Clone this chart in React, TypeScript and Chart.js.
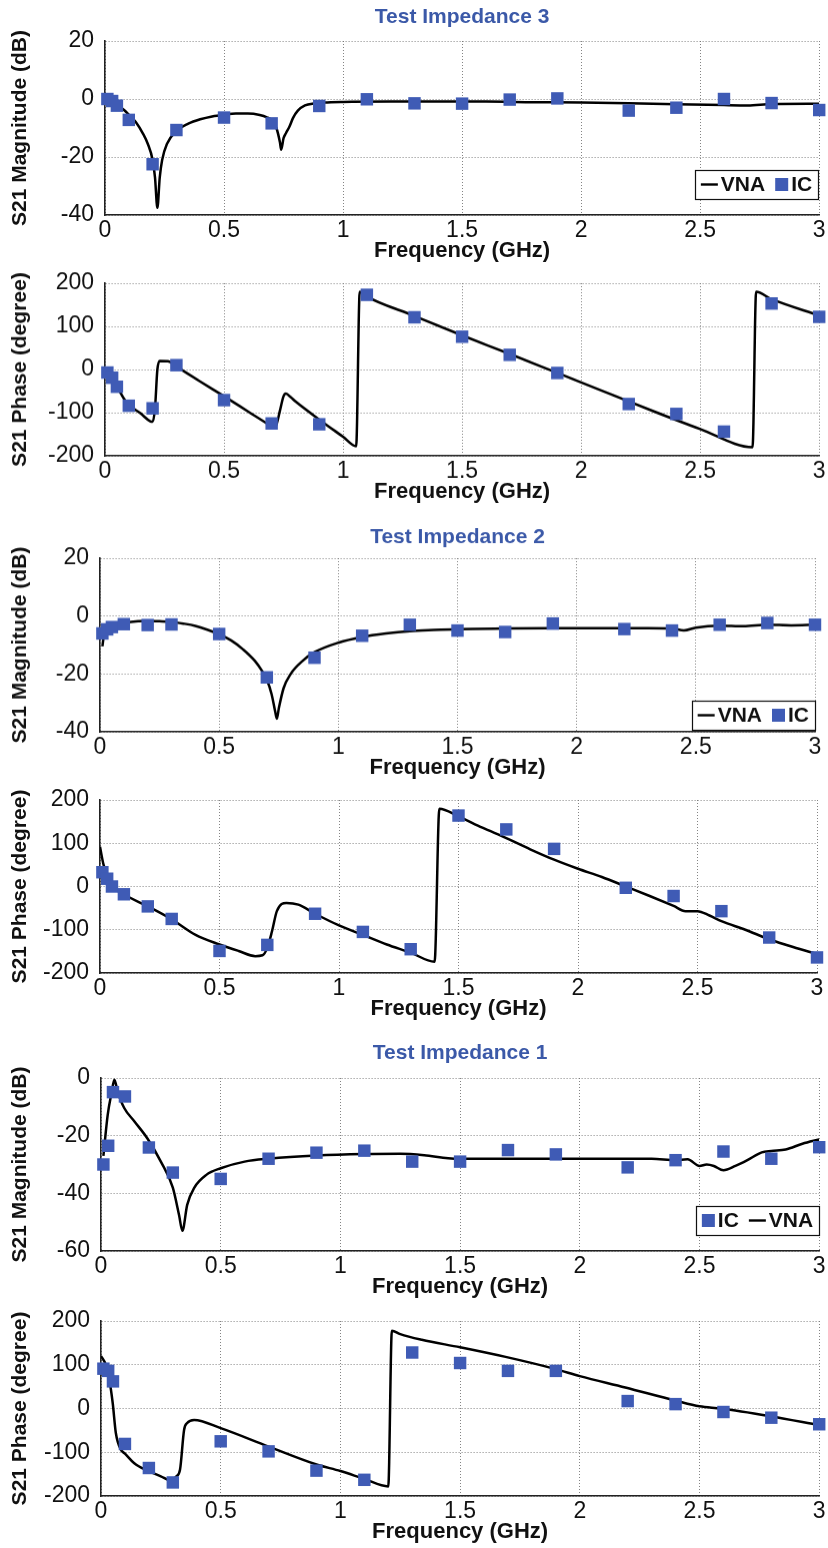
import React, { useEffect, useRef } from "react";
import { Chart, registerables } from "chart.js";

Chart.register(...registerables);

// ---------- fonts & colours ----------
const SANS = '"Liberation Sans", Arial, sans-serif';
const IC_BLUE = "#3f5bb5";
const TITLE_BLUE = "#3b59a8";
const GRID_GREY = "rgba(110,110,110,0.85)";

// ---------- shared axis ticks ----------
const freqTicks = [0, 0.5, 1, 1.5, 2, 2.5, 3];
const magTicks20 = [-40, -20, 0, 20];
const magTicks0 = [-60, -40, -20, 0];
const phaseTicks = [-200, -100, 0, 100, 200];

// ---------- IC measurement frequencies (GHz) ----------
const icFreq = [0.01, 0.03, 0.05, 0.1, 0.2, 0.3, 0.5, 0.7, 0.9, 1.1, 1.3, 1.5, 1.7, 1.9, 2.2, 2.4, 2.6, 2.8, 3.0];

// ---------- Test Impedance 3 ----------
const ti3MagIC = [0, -0.7, -2.3, -7.2, -22.5, -10.7, -6.4, -8.4, -2.4, -0.1, -1.5, -1.6, -0.2, 0.2, -4, -3, 0, -1.4, -3.8];
const ti3PhaseIC = [-7, -19, -40, -84, -90, 10, -71, -125, -127, 173, 121, 76, 34, -8, -80, -103, -144, 153, 122];

const ti3MagVnaF = [0, 0.02, 0.05, 0.08, 0.1, 0.13, 0.16, 0.18, 0.2, 0.21, 0.22, 0.23, 0.24, 0.26, 0.3, 0.35, 0.4, 0.45, 0.5, 0.55, 0.6, 0.65, 0.68, 0.7, 0.72, 0.735, 0.74, 0.75, 0.76, 0.775, 0.79, 0.81, 0.84, 0.88, 0.92, 1.0, 1.2, 1.4, 1.6, 1.8, 2.0, 2.2, 2.4, 2.6, 2.7, 2.8, 3.0];
const ti3MagVna = [0, -0.8, -2, -3.8, -5.4, -8, -12, -15.5, -21, -27, -37.5, -27, -21, -15.5, -11, -8.5, -7, -6, -5.4, -5, -5, -5.5, -6.3, -7.3, -10, -15, -17.5, -13.5, -11.8, -9.5, -6.5, -4, -2.2, -1.5, -1.2, -1, -0.9, -0.9, -0.9, -1.1, -1.2, -1.5, -1.8, -2.1, -2.2, -1.7, -1.6];

const ti3PhaseVnaF = [0, 0.02, 0.05, 0.08, 0.1, 0.15, 0.19, 0.2, 0.21, 0.22, 0.23, 0.265, 0.3, 0.4, 0.5, 0.6, 0.68, 0.71, 0.72, 0.735, 0.75, 0.76, 0.78, 0.8, 0.9, 1.0, 1.055, 1.07, 1.09, 1.3, 1.5, 1.7, 1.9, 2.1, 2.3, 2.5, 2.72, 2.735, 2.8, 3.0];
const ti3PhaseVna = [-3, -17, -40, -68, -82, -102, -120, -121, -90, 0, 20, 19, 7, -28, -62, -97, -125, -136, -128, -95, -62, -56, -64, -74, -116, -156, -178, 180, 172, 124, 79, 36, -8, -52, -96, -138, -180, 180, 163, 125];

// ---------- Test Impedance 2 ----------
const ti2MagIC = [-6, -4.6, -3.8, -2.8, -3.1, -2.9, -6.2, -21.2, -14.4, -6.8, -3, -5, -5.5, -2.6, -4.5, -5, -3, -2.4, -3];
const ti2PhaseIC = [33, 18, 0, -18, -46, -75, -149, -135, -63, -105, -145, 164, 132, 87, -3, -22, -57, -118, -164];

const ti2MagVnaF = [0.01, 0.015, 0.02, 0.03, 0.05, 0.08, 0.12, 0.2, 0.25, 0.3, 0.35, 0.4, 0.45, 0.5, 0.55, 0.6, 0.65, 0.68, 0.7, 0.72, 0.735, 0.742, 0.75, 0.77, 0.8, 0.85, 0.9, 1.0, 1.1, 1.2, 1.3, 1.4, 1.5, 1.7, 1.9, 2.1, 2.3, 2.4, 2.45, 2.5, 2.6, 2.7, 2.8, 2.9, 3.0];
const ti2MagVna = [-10.5, -7.5, -6, -4.5, -3.5, -2.7, -2.1, -1.7, -1.8, -2.0, -2.6, -3.4, -4.7, -6.3, -8.4, -11.5, -15.5, -19, -22, -27, -33, -35.5, -32, -25, -20, -15.5, -12.5, -9.2, -7.2, -6, -5.2, -4.8, -4.5, -4.3, -4.2, -4.2, -4.2, -4.3, -5, -4, -3.3, -3.5, -3, -3.2, -3];

const ti2PhaseVnaF = [0, 0.015, 0.05, 0.1, 0.2, 0.3, 0.4, 0.5, 0.58, 0.65, 0.68, 0.7, 0.72, 0.74, 0.78, 0.83, 0.9, 1.0, 1.1, 1.2, 1.3, 1.4, 1.42, 1.5, 1.6, 1.7, 1.8, 1.9, 2.0, 2.1, 2.2, 2.3, 2.4, 2.45, 2.5, 2.55, 2.6, 2.7, 2.8, 2.9, 3.0];
const ti2PhaseVna = [92, 50, 3, -18, -46, -76, -112, -134, -149, -161, -159, -142, -103, -57, -38, -42, -63, -90, -112, -134, -153, -174, 180, 162, 136, 112, 86, 62, 41, 22, 0, -22, -45, -57, -57, -67, -80, -100, -122, -140, -156];

// ---------- Test Impedance 1 ----------
const ti1MagIC = [-30, -23.5, -4.9, -6.4, -24.1, -32.8, -35, -28, -25.9, -25.2, -29, -29, -25, -26.5, -31, -28.5, -25.5, -28, -24];
const ti1PhaseIC = [91, 86, 62, -81, -136, -169, -75, -98, -142, -163, 128, 104, 86, 86, 17, 10, -8, -21, -36];

const ti1MagVnaF = [0.01, 0.028, 0.044, 0.056, 0.069, 0.097, 0.139, 0.194, 0.25, 0.3, 0.326, 0.34, 0.36, 0.39, 0.44, 0.5, 0.6, 0.7, 0.9, 1.1, 1.25, 1.35, 1.45, 1.5, 1.7, 1.9, 2.1, 2.3, 2.4, 2.45, 2.5, 2.53, 2.56, 2.6, 2.65, 2.7, 2.76, 2.8, 2.86, 2.93, 3.0];
const ti1MagVna = [-27, -12.8, -5.2, -0.6, -4.6, -10.4, -15, -21, -29, -38, -47.5, -53, -44, -38, -33.6, -31.3, -29, -28, -26.9, -26.4, -26.3, -26.8, -27.8, -28, -28, -28, -28, -28, -28.5, -28.2, -30.5, -30, -30.5, -32, -30.5, -28.5, -25.8, -25.3, -24.8, -22.8, -21.3];

const ti1PhaseVnaF = [0, 0.02, 0.035, 0.049, 0.062, 0.083, 0.1, 0.139, 0.194, 0.25, 0.29, 0.315, 0.33, 0.347, 0.36, 0.389, 0.5, 0.7, 0.9, 1.0, 1.1, 1.2, 1.215, 1.25, 1.34, 1.5, 1.69, 1.9, 2.0, 2.19, 2.4, 2.5, 2.59, 2.79, 3.0];
const ti1PhaseVna = [120, 100, 65, 12, -56, -94, -103, -125, -142, -155, -164, -155, -140, -49, -33, -26, -45, -87, -128, -143, -161, -178, 178, 170, 157, 140, 118, 90, 74, 48, 18, 5, 0, -17, -38];

// ---------- panel layout ----------
type Rect = { left: number; right: number; top: number; bottom: number };
type LegendItem = "VNA" | "IC";
type PanelSpec = {
  id: string;
  title?: string;
  titleY?: number;
  yTitle: string;
  yTicks: number[];
  plot: Rect;
  vnaF: number[];
  vnaV: number[];
  icV: number[];
  legend?: LegendItem[];
  legendGap?: number;
  legendRight?: number;
};

const PAD_TOP = 46;
const PAD_BOTTOM = 64;
const PAGE_W = 828;

const panels: PanelSpec[] = [
  {
    id: "ti3-mag", title: "Test Impedance 3", titleY: 17, yTitle: "S21 Magnitude (dB)", yTicks: magTicks20,
    plot: { left: 105, right: 822, top: 41, bottom: 215 },
    vnaF: ti3MagVnaF, vnaV: ti3MagVna, icV: ti3MagIC, legend: ["VNA", "IC"], legendGap: 16, legendRight: 1,
  },
  {
    id: "ti3-phase", yTitle: "S21 Phase (degree)", yTicks: phaseTicks,
    plot: { left: 105, right: 822, top: 283, bottom: 455.5 },
    vnaF: ti3PhaseVnaF, vnaV: ti3PhaseVna, icV: ti3PhaseIC,
  },
  {
    id: "ti2-mag", title: "Test Impedance 2", titleY: 537, yTitle: "S21 Magnitude (dB)", yTicks: magTicks20,
    plot: { left: 100, right: 815, top: 558, bottom: 731.7 },
    vnaF: ti2MagVnaF, vnaV: ti2MagVna, icV: ti2MagIC, legend: ["VNA", "IC"], legendGap: 2, legendRight: 0,
  },
  {
    id: "ti2-phase", yTitle: "S21 Phase (degree)", yTicks: phaseTicks,
    plot: { left: 100, right: 817, top: 800, bottom: 973 },
    vnaF: ti2PhaseVnaF, vnaV: ti2PhaseVna, icV: ti2PhaseIC,
  },
  {
    id: "ti1-mag", title: "Test Impedance 1", titleY: 1053, yTitle: "S21 Magnitude (dB)", yTicks: magTicks0,
    plot: { left: 101, right: 821, top: 1078, bottom: 1251 },
    vnaF: ti1MagVnaF, vnaV: ti1MagVna, icV: ti1MagIC, legend: ["IC", "VNA"], legendGap: 16, legendRight: 0,
  },
  {
    id: "ti1-phase", yTitle: "S21 Phase (degree)", yTicks: phaseTicks,
    plot: { left: 101, right: 821, top: 1321, bottom: 1496 },
    vnaF: ti1PhaseVnaF, vnaV: ti1PhaseVna, icV: ti1PhaseIC,
  },
];

// Blue panel heading, centred over the plotting area
function headingPlugin(text: string | undefined, y: number) {
  return {
    id: "heading",
    afterDraw(chart: any) {
      if (!text) return;
      const { ctx, chartArea } = chart;
      ctx.save();
      ctx.font = `bold 21px ${SANS}`;
      ctx.fillStyle = TITLE_BLUE;
      ctx.textAlign = "center";
      ctx.textBaseline = "middle";
      ctx.fillText(text, (chartArea.left + chartArea.right) / 2, y);
      ctx.restore();
    },
  };
}

// Boxed legend in the lower-right corner of the plotting area
function legendPlugin(items: LegendItem[] | undefined, gap: number, rightInset: number) {
  return {
    id: "boxLegend",
    afterDraw(chart: any) {
      if (!items || !items.length) return;
      const { ctx, chartArea } = chart;
      ctx.save();
      ctx.font = `bold 21px ${SANS}`;
      const lineLen = 17;
      const sq = 13;
      const padX = 6;
      const h = 29;
      const parts = items.map((k) => {
        const textW = ctx.measureText(k).width;
        const sym = k === "VNA" ? lineLen : sq;
        return { kind: k, w: sym + 3 + textW, textW };
      });
      const itemGap = 10;
      const total = parts.reduce((s, p) => s + p.w, 0) + itemGap * (parts.length - 1) + padX * 2;
      const right = chartArea.right - rightInset;
      const bottom = chartArea.bottom - gap;
      const left = right - total;
      const top = bottom - h;
      ctx.fillStyle = "#fff";
      ctx.fillRect(left, top, total, h);
      ctx.strokeStyle = "#111";
      ctx.lineWidth = 1.2;
      ctx.strokeRect(Math.round(left) + 0.5, Math.round(top) + 0.5, Math.round(total), Math.round(h));
      let x = left + padX;
      const cy = top + h / 2;
      ctx.textBaseline = "middle";
      ctx.textAlign = "left";
      for (const p of parts) {
        if (p.kind === "VNA") {
          ctx.strokeStyle = "#000";
          ctx.lineWidth = 2.4;
          ctx.beginPath();
          ctx.moveTo(x, cy);
          ctx.lineTo(x + lineLen, cy);
          ctx.stroke();
          x += lineLen + 3;
        } else {
          ctx.fillStyle = IC_BLUE;
          ctx.fillRect(x, cy - sq / 2, sq, sq);
          x += sq + 3;
        }
        ctx.fillStyle = "#111";
        ctx.fillText(p.kind, x, cy + 1);
        x += p.textW + itemGap;
      }
      ctx.restore();
    },
  };
}

function Panel({ spec }: { spec: PanelSpec }) {
  const ref = useRef<HTMLCanvasElement | null>(null);
  const canvasTop = spec.plot.top - PAD_TOP;
  const height = spec.plot.bottom - spec.plot.top + PAD_TOP + PAD_BOTTOM;

  useEffect(() => {
    const canvas = ref.current;
    if (!canvas) return;
    const vnaPts = spec.vnaF.map((f, i) => ({ x: f, y: spec.vnaV[i] }));
    const icPts = icFreq.map((f, i) => ({ x: f, y: spec.icV[i] }));
    const yMin = spec.yTicks[0];
    const yMax = spec.yTicks[spec.yTicks.length - 1];

    const gridCommon = { color: GRID_GREY, lineWidth: 1, drawTicks: false };
    const borderCommon = { display: true, color: "#222", width: 1.6, dash: [1, 2] };

    const chart = new Chart(canvas, {
      type: "scatter",
      data: {
        datasets: [
          {
            label: "IC",
            data: icPts,
            pointStyle: "rect",
            pointRadius: 8.8,
            pointHoverRadius: 8.8,
            backgroundColor: IC_BLUE,
            borderWidth: 0,
            showLine: false,
            order: 1,
            clip: false,
          } as any,
          {
            label: "VNA",
            data: vnaPts,
            showLine: true,
            borderColor: "#000",
            borderWidth: 2.5,
            pointRadius: 0,
            cubicInterpolationMode: "monotone",
            order: 2,
          } as any,
        ],
      },
      options: {
        animation: false,
        responsive: false,
        maintainAspectRatio: false,
        devicePixelRatio: 1,
        events: [],
        layout: { padding: { left: 0, right: PAGE_W - spec.plot.right, top: PAD_TOP, bottom: 0 } },
        plugins: {
          legend: { display: false },
          tooltip: { enabled: false },
          title: { display: false },
        },
        scales: {
          x: {
            type: "linear",
            min: 0,
            max: 3,
            afterBuildTicks: (s: any) => {
              s.ticks = freqTicks.map((v) => ({ value: v }));
            },
            afterFit: (s: any) => {
              s.height = PAD_BOTTOM;
              s.paddingLeft = 0;
              s.paddingRight = 0;
            },
            ticks: {
              autoSkip: false,
              maxRotation: 0,
              padding: 2,
              color: "#111",
              font: { family: SANS, size: 23 },
              callback: (v: any) => String(v),
            },
            grid: gridCommon,
            border: borderCommon,
            title: {
              display: true,
              text: "Frequency (GHz)",
              color: "#111",
              font: { family: SANS, size: 22, weight: "bold" },
              padding: { top: 0, bottom: 15 },
            },
          },
          y: {
            type: "linear",
            min: yMin,
            max: yMax,
            afterBuildTicks: (s: any) => {
              s.ticks = spec.yTicks.map((v) => ({ value: v }));
            },
            afterFit: (s: any) => {
              s.width = spec.plot.left;
              s.paddingTop = 0;
              s.paddingBottom = 0;
            },
            ticks: {
              padding: 11,
              color: "#111",
              font: { family: SANS, size: 23 },
              callback: (v: any) => String(v),
            },
            grid: gridCommon,
            border: borderCommon,
            title: {
              display: true,
              text: spec.yTitle,
              color: "#111",
              font: { family: SANS, size: 21, weight: "bold" },
              padding: { top: 8, bottom: 0 },
            },
          },
        },
      } as any,
      plugins: [
        headingPlugin(spec.title, (spec.titleY ?? 0) - canvasTop),
        legendPlugin(spec.legend, spec.legendGap ?? 0, spec.legendRight ?? 0),
      ],
    });
    return () => chart.destroy();
  }, [spec, canvasTop]);

  return (
    <canvas
      ref={ref}
      width={PAGE_W}
      height={height}
      style={{ position: "absolute", left: 0, top: canvasTop, width: PAGE_W, height }}
    />
  );
}

export default function App() {
  return (
    <div style={{ position: "absolute", left: 0, top: 0, width: PAGE_W, height: 1548, background: "#fff", overflow: "hidden" }}>
      {panels.map((p) => (
        <Panel key={p.id} spec={p} />
      ))}
    </div>
  );
}
